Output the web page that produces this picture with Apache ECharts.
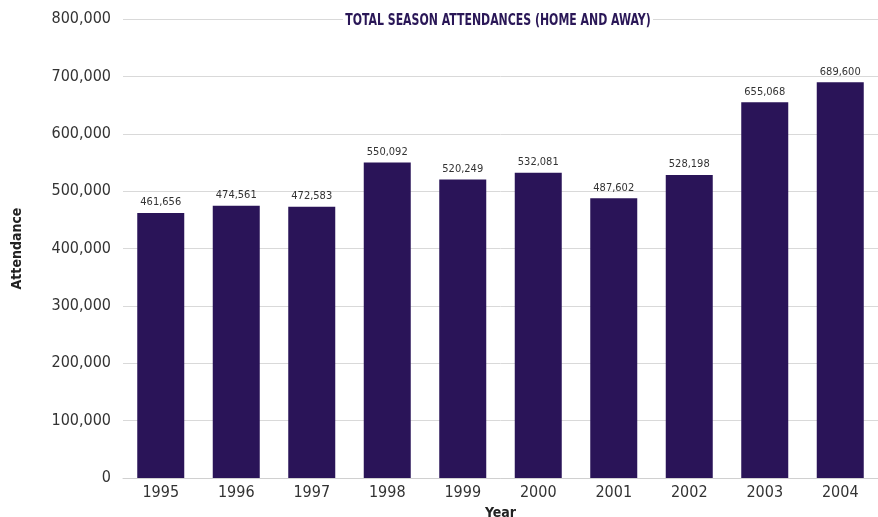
<!DOCTYPE html>
<html><head><meta charset="utf-8">
<script src="https://cdn.jsdelivr.net/npm/echarts@6/dist/echarts.min.js"></script>
<style>html,body{margin:0;padding:0;background:#fff}#c{width:878px;height:517px}</style>
</head><body><div id="c"></div>
<script>
const years = ['1995','1996','1997','1998','1999','2000','2001','2002','2003','2004'];
const attendance = [461656,474561,472583,550092,520249,532081,487602,528198,655068,689600];
const titleText = 'TOTAL SEASON ATTENDANCES (HOME AND AWAY)';
const FONT = '"Liberation Sans Narrow","DejaVu Sans Condensed","Roboto Condensed",sans-serif';
const chart = echarts.init(document.getElementById('c'));
chart.setOption({
  animation:false,
  graphic:[{type:'text',x:498,y:21,scaleX:0.76,z:100,
    style:{text:titleText,align:'center',verticalAlign:'middle',
      fontFamily:FONT,fontSize:16,fontWeight:'bold',fill:'#2a1757',
      backgroundColor:'#fff',padding:[0,3]}}],
  grid:{left:123,right:0,top:19,bottom:39,containLabel:false,outerBoundsMode:'none'},
  xAxis:{type:'category',data:years,name:'Year',nameLocation:'middle',nameGap:24,
    nameTextStyle:{fontFamily:FONT,fontSize:14,fontWeight:'bold',color:'#222'},
    axisLine:{lineStyle:{color:'#d0d0d0',width:1}},axisTick:{show:false},
    axisLabel:{fontFamily:FONT,fontSize:16,color:'#333',margin:7}},
  yAxis:{type:'value',min:0,max:800000,interval:100000,name:'Attendance',nameLocation:'middle',nameGap:99,
    nameTextStyle:{fontFamily:FONT,fontSize:14,fontWeight:'bold',color:'#222'},
    axisLine:{show:false},axisTick:{show:false},
    splitLine:{lineStyle:{color:'#d9d9d9',width:1}},
    axisLabel:{fontFamily:FONT,fontSize:16,color:'#333',margin:12,
      formatter:v=>v.toLocaleString('en-US')}},
  series:[{type:'bar',data:attendance,barWidth:47,itemStyle:{color:'#2a1458'},
    label:{show:true,position:'top',distance:5,fontFamily:FONT,fontSize:11,color:'#333',
      formatter:p=>p.value.toLocaleString('en-US')}}]
});
</script></body></html>
